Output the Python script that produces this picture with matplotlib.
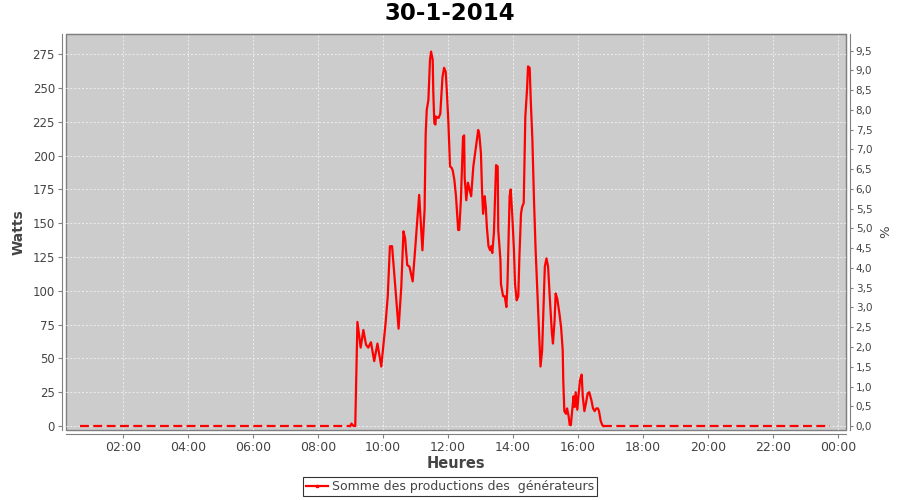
import pandas as pd
import numpy as np
import matplotlib
matplotlib.use("Agg")
import matplotlib.pyplot as plt
import matplotlib.dates as mdates
from matplotlib.lines import Line2D
from matplotlib.ticker import FuncFormatter

day = "2014-01-30"

# production during the day (time, watts)
times = ["09:00", "09:02", "09:06", "09:09", "09:13", "09:19", "09:24", "09:29", "09:33", "09:38",
         "09:44", "09:50", "09:57", "10:05", "10:09", "10:13", "10:17", "10:20", "10:24", "10:29",
         "10:34", "10:38", "10:41", "10:45", "10:49", "10:55", "11:00", "11:07", "11:13", "11:17",
         "11:19", "11:21", "11:24", "11:27", "11:29", "11:32", "11:33", "11:35", "11:37", "11:38",
         "11:41", "11:43", "11:46", "11:50", "11:53", "11:56", "11:58", "12:01", "12:04", "12:07",
         "12:09", "12:12", "12:15", "12:19", "12:21", "12:24", "12:28", "12:30", "12:31", "12:34",
         "12:37", "12:40", "12:43", "12:47", "12:52", "12:56", "12:58", "13:01", "13:03", "13:05",
         "13:08", "13:10", "13:12", "13:15", "13:18", "13:20", "13:22", "13:25", "13:28", "13:29",
         "13:32", "13:33", "13:37", "13:38", "13:42", "13:45", "13:48", "13:50", "13:54", "13:56",
         "13:59", "14:02", "14:04", "14:07", "14:10", "14:12", "14:15", "14:17", "14:20", "14:23",
         "14:26", "14:28", "14:31", "14:33", "14:36", "14:39", "14:42", "14:45", "14:48", "14:51",
         "14:54", "14:57", "14:59", "15:02", "15:05", "15:08", "15:12", "15:14", "15:17", "15:19",
         "15:22", "15:26", "15:29", "15:32", "15:33", "15:35", "15:38", "15:40", "15:43", "15:45",
         "15:47", "15:49", "15:52", "15:54", "15:56", "15:59", "16:01", "16:04", "16:07", "16:09",
         "16:12", "16:15", "16:18", "16:21", "16:25", "16:28", "16:31", "16:34", "16:37", "16:39",
         "16:42", "16:45", "16:47"]
watts = [0, 1.8, 0, 0, 77, 58, 71, 60, 58, 62,
         48, 61, 44, 76, 96, 133, 133, 118, 98, 72,
         103, 144, 139, 119, 118, 107, 133, 171, 130, 160,
         216, 234, 241, 271, 277, 271, 248, 224, 223, 229,
         228, 228, 231, 258, 265, 262, 248, 224, 192, 191,
         189, 182, 170, 145, 145, 167, 214, 215, 184, 167,
         180, 175, 170, 192, 207, 219, 216, 202, 175, 157,
         170, 162, 147, 133, 130, 133, 128, 143, 182, 193,
         192, 145, 123, 105, 96, 96, 88, 105, 170, 175,
         155, 130, 105, 93, 96, 125, 157, 162, 165, 229,
         248, 266, 265, 241, 212, 167, 130, 101, 71, 44,
         56, 93, 118, 124, 118, 96, 69, 61, 78, 98,
         94, 83, 73, 56, 34, 11, 9, 13, 7, 0.7,
         0.7, 9, 22, 14, 25, 12, 22, 34, 38, 22,
         11, 17, 24, 25, 19, 13, 11, 13, 13, 11,
         4, 0.7, 0]

# periods with no production (recorded as 0 W)
night_periods = [("00:41", "09:00"), ("16:47", "23:46")]

pct_ticks = np.arange(0, 10, 0.5)
watt_ticks = np.arange(0, 300, 25)

t = pd.to_datetime([day + " " + s for s in times])
red = "#ff0000"
grey_txt = "#444444"

fig = plt.figure(figsize=(9, 5), dpi=100)
ax = fig.add_axes([66 / 900, 1 - 430 / 500, 780 / 900, 396 / 500])
ax.set_facecolor("#cccccc")
ax.patch.set_edgecolor("#808080")
ax.patch.set_linewidth(1.0)

for start, end in night_periods:
    tn = pd.to_datetime([day + " " + start, day + " " + end])
    ax.plot(tn, [0, 0], color=red, lw=1.6, dashes=(4, 2), zorder=3)
ax.plot(t, watts, color=red, lw=1.6, zorder=3)

ax.set_xlim(pd.Timestamp(day + " 00:15"), pd.Timestamp("2014-01-31 00:15"))
ax.set_ylim(-2.96, 290)
ax.set_yticks(watt_ticks)
ax.xaxis.set_major_locator(mdates.HourLocator(byhour=range(0, 24, 2)))
ax.xaxis.set_major_formatter(mdates.DateFormatter("%H:%M"))
ax.grid(True, color="#eeeeee", linestyle=(0, (2, 2)), linewidth=0.7)
ax.set_axisbelow(True)

for side in ["left", "bottom"]:
    ax.spines[side].set_position(("outward", 3))
    ax.spines[side].set_color("#808080")
ax.spines["top"].set_color("#808080")
ax.spines["right"].set_color("#808080")
ax.tick_params(axis="both", colors="#808080", labelcolor=grey_txt, length=3, pad=2)
ax.tick_params(axis="x", labelsize=9)
ax.tick_params(axis="y", labelsize=8.5)

ax2 = ax.twinx()
ax2.set_ylim(-0.10, 9.92)
ax2.set_yticks(pct_ticks)
ax2.yaxis.set_major_formatter(FuncFormatter(lambda v, p: ("%.1f" % v).replace(".", ",")))
ax2.spines["right"].set_position(("outward", 3))
ax2.spines["right"].set_color("#808080")
for side in ["left", "top", "bottom"]:
    ax2.spines[side].set_visible(False)
ax2.tick_params(axis="y", colors="#808080", labelcolor=grey_txt, labelsize=7.5, length=2, pad=2)

ax.set_xlabel("Heures", fontsize=10.5, fontweight="bold", color=grey_txt, labelpad=1)
ax.set_ylabel("Watts", fontsize=10, fontweight="bold", color=grey_txt, labelpad=5)
ax2.set_ylabel("%", fontsize=9.5, color=grey_txt, labelpad=5)

fig.suptitle("30-1-2014", fontsize=16.5, fontweight="bold", y=0.995)

handle = Line2D([], [], color=red, lw=1.6, marker="s", markersize=2)
leg = fig.legend([handle], ["Somme des productions des  générateurs"], loc="center",
                 bbox_to_anchor=(0.5, 0.027), fontsize=9, frameon=True, fancybox=False,
                 edgecolor="black", handlelength=1.8, borderpad=0.25, handletextpad=0.3)
leg.get_frame().set_linewidth(0.8)
for txt in leg.get_texts():
    txt.set_color(grey_txt)

fig.savefig("out.png", dpi=100)
